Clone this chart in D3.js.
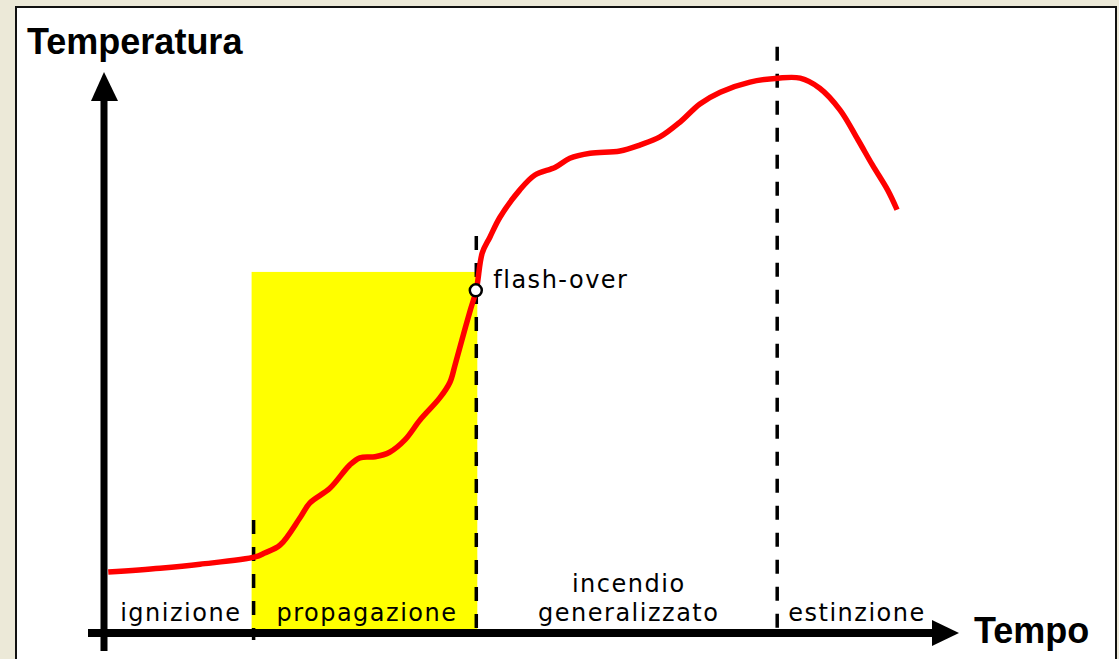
<!DOCTYPE html>
<html>
<head>
<meta charset="utf-8">
<script src="https://cdn.jsdelivr.net/npm/d3@7"></script>
<style>
  html, body { margin: 0; padding: 0; background: #ece9d8; overflow: hidden; }
  .phase { font-family: "DejaVu Sans", sans-serif; font-size: 24px; letter-spacing: 1.5px; fill: #000; }
  .axis-title { font-family: "Liberation Sans", Arial, sans-serif; font-weight: bold; font-size: 36px; fill: #000; }
</style>
</head>
<body>
<script>
// time (0..100) vs temperature (0..100)
const time = [0.5, 6.6, 11.3, 17.8, 18.9, 20.7, 23.1, 24.2, 26.6, 28.9, 30.1, 31.9, 33.6, 35.4, 37.2,
  39.5, 40.7, 41.3, 42.1, 43.1, 43.8, 44.5, 45.4, 46.6, 48.9, 50.7, 53.1, 54.8, 57.2, 60.7, 63.1,
  65.4, 67.8, 70.1, 72.5, 76.0, 79.3, 81.9, 84.2, 86.6, 88.7, 90.4, 92.2, 93.3];
const temperature = [10.7, 11.4, 12.1, 13.4, 14.1, 15.5, 20.5, 23.0, 25.7, 29.8, 31.1, 31.3, 32.1, 34.3, 37.9,
  41.8, 44.6, 47.7, 52.1, 57.5, 61.1, 67.7, 70.5, 74.1, 78.9, 81.6, 83.0, 84.6, 85.5, 85.9, 87.0,
  88.4, 91.1, 94.3, 96.4, 98.2, 98.9, 98.9, 97.1, 93.2, 87.9, 83.4, 78.9, 75.4];

const phaseNames = [["ignizione"], ["propagazione"], ["incendio", "generalizzato"], ["estinzione"]];
const phaseBounds = [0, 17.6, 43.8, 79.2, 97.5];
const dashStarts = [20, 70.7, 104.5];   // top of each dashed boundary (temperature units)
const propagationTop = 64.3;
const flashOverTime = 43.8, flashOverTemp = 61.1;

const W = 1119, H = 659;
const svg = d3.select("body").append("svg").attr("width", W).attr("height", H);

// panel
svg.append("rect").attr("x", 15).attr("y", 6).attr("width", 1102).attr("height", 700)
  .attr("fill", "#808080");
svg.append("rect").attr("x", 16).attr("y", 7).attr("width", 1100).attr("height", 700)
  .attr("fill", "#fff").attr("stroke", "#111").attr("stroke-width", 2);

const x = d3.scaleLinear().domain([0, 100]).range([104, 954]);
const y = d3.scaleLinear().domain([0, 100]).range([632, 72]);

// propagation area
svg.append("rect")
  .attr("x", x(phaseBounds[1]) - 2).attr("y", y(propagationTop))
  .attr("width", x(phaseBounds[2]) - x(phaseBounds[1]) + 3)
  .attr("height", y(0) - y(propagationTop))
  .attr("fill", "#ffff00");

// dashed phase boundaries
svg.selectAll(".bound").data(dashStarts).join("line")
  .attr("x1", (d, i) => x(phaseBounds[i + 1])).attr("x2", (d, i) => x(phaseBounds[i + 1]))
  .attr("y1", d => y(d)).attr("y2", y(0) + 8)
  .attr("stroke", "#000").attr("stroke-width", 3.5).attr("stroke-dasharray", "14,13");

// phase labels
phaseNames.forEach((lines, i) => {
  const cx = (x(phaseBounds[i]) + x(phaseBounds[i + 1])) / 2 + 2;
  lines.forEach((s, j) => {
    svg.append("text").attr("class", "phase")
      .attr("x", cx).attr("y", 621 - (lines.length - 1 - j) * 29)
      .attr("text-anchor", "middle").text(s);
  });
});

// axes
svg.append("line").attr("x1", x(0)).attr("x2", x(0)).attr("y1", y(0) + 19).attr("y2", 95)
  .attr("stroke", "#000").attr("stroke-width", 7);
svg.append("path").attr("d", d3.line()([[x(0), 72], [x(0) - 13, 101], [x(0) + 14, 101]]))
  .attr("fill", "#000");
svg.append("line").attr("x1", 88).attr("x2", 940).attr("y1", y(0) + 1).attr("y2", y(0) + 1)
  .attr("stroke", "#000").attr("stroke-width", 8);
svg.append("path").attr("d", d3.line()([[959, y(0) + 1], [932, y(0) - 12], [932, y(0) + 14]]))
  .attr("fill", "#000");

svg.append("text").attr("class", "axis-title").attr("x", 27).attr("y", 54).text("Temperatura");
svg.append("text").attr("class", "axis-title").attr("x", 974).attr("y", 643).text("Tempo");

// temperature curve
const pts = time.map((t, i) => [t, temperature[i]]);
svg.append("path")
  .attr("d", d3.line().x(d => x(d[0])).y(d => y(d[1])).curve(d3.curveCatmullRom)(pts))
  .attr("fill", "none").attr("stroke", "#ff0000").attr("stroke-width", 5.5)
  .attr("stroke-linejoin", "round");

// flash-over
svg.append("circle").attr("cx", x(flashOverTime) - 0.5).attr("cy", y(flashOverTemp) + 0.5).attr("r", 6)
  .attr("fill", "#fff").attr("stroke", "#000").attr("stroke-width", 2.5);
svg.append("text").attr("class", "phase").attr("x", x(flashOverTime) + 17).attr("y", 288)
  .text("flash-over");
</script>
</body>
</html>
